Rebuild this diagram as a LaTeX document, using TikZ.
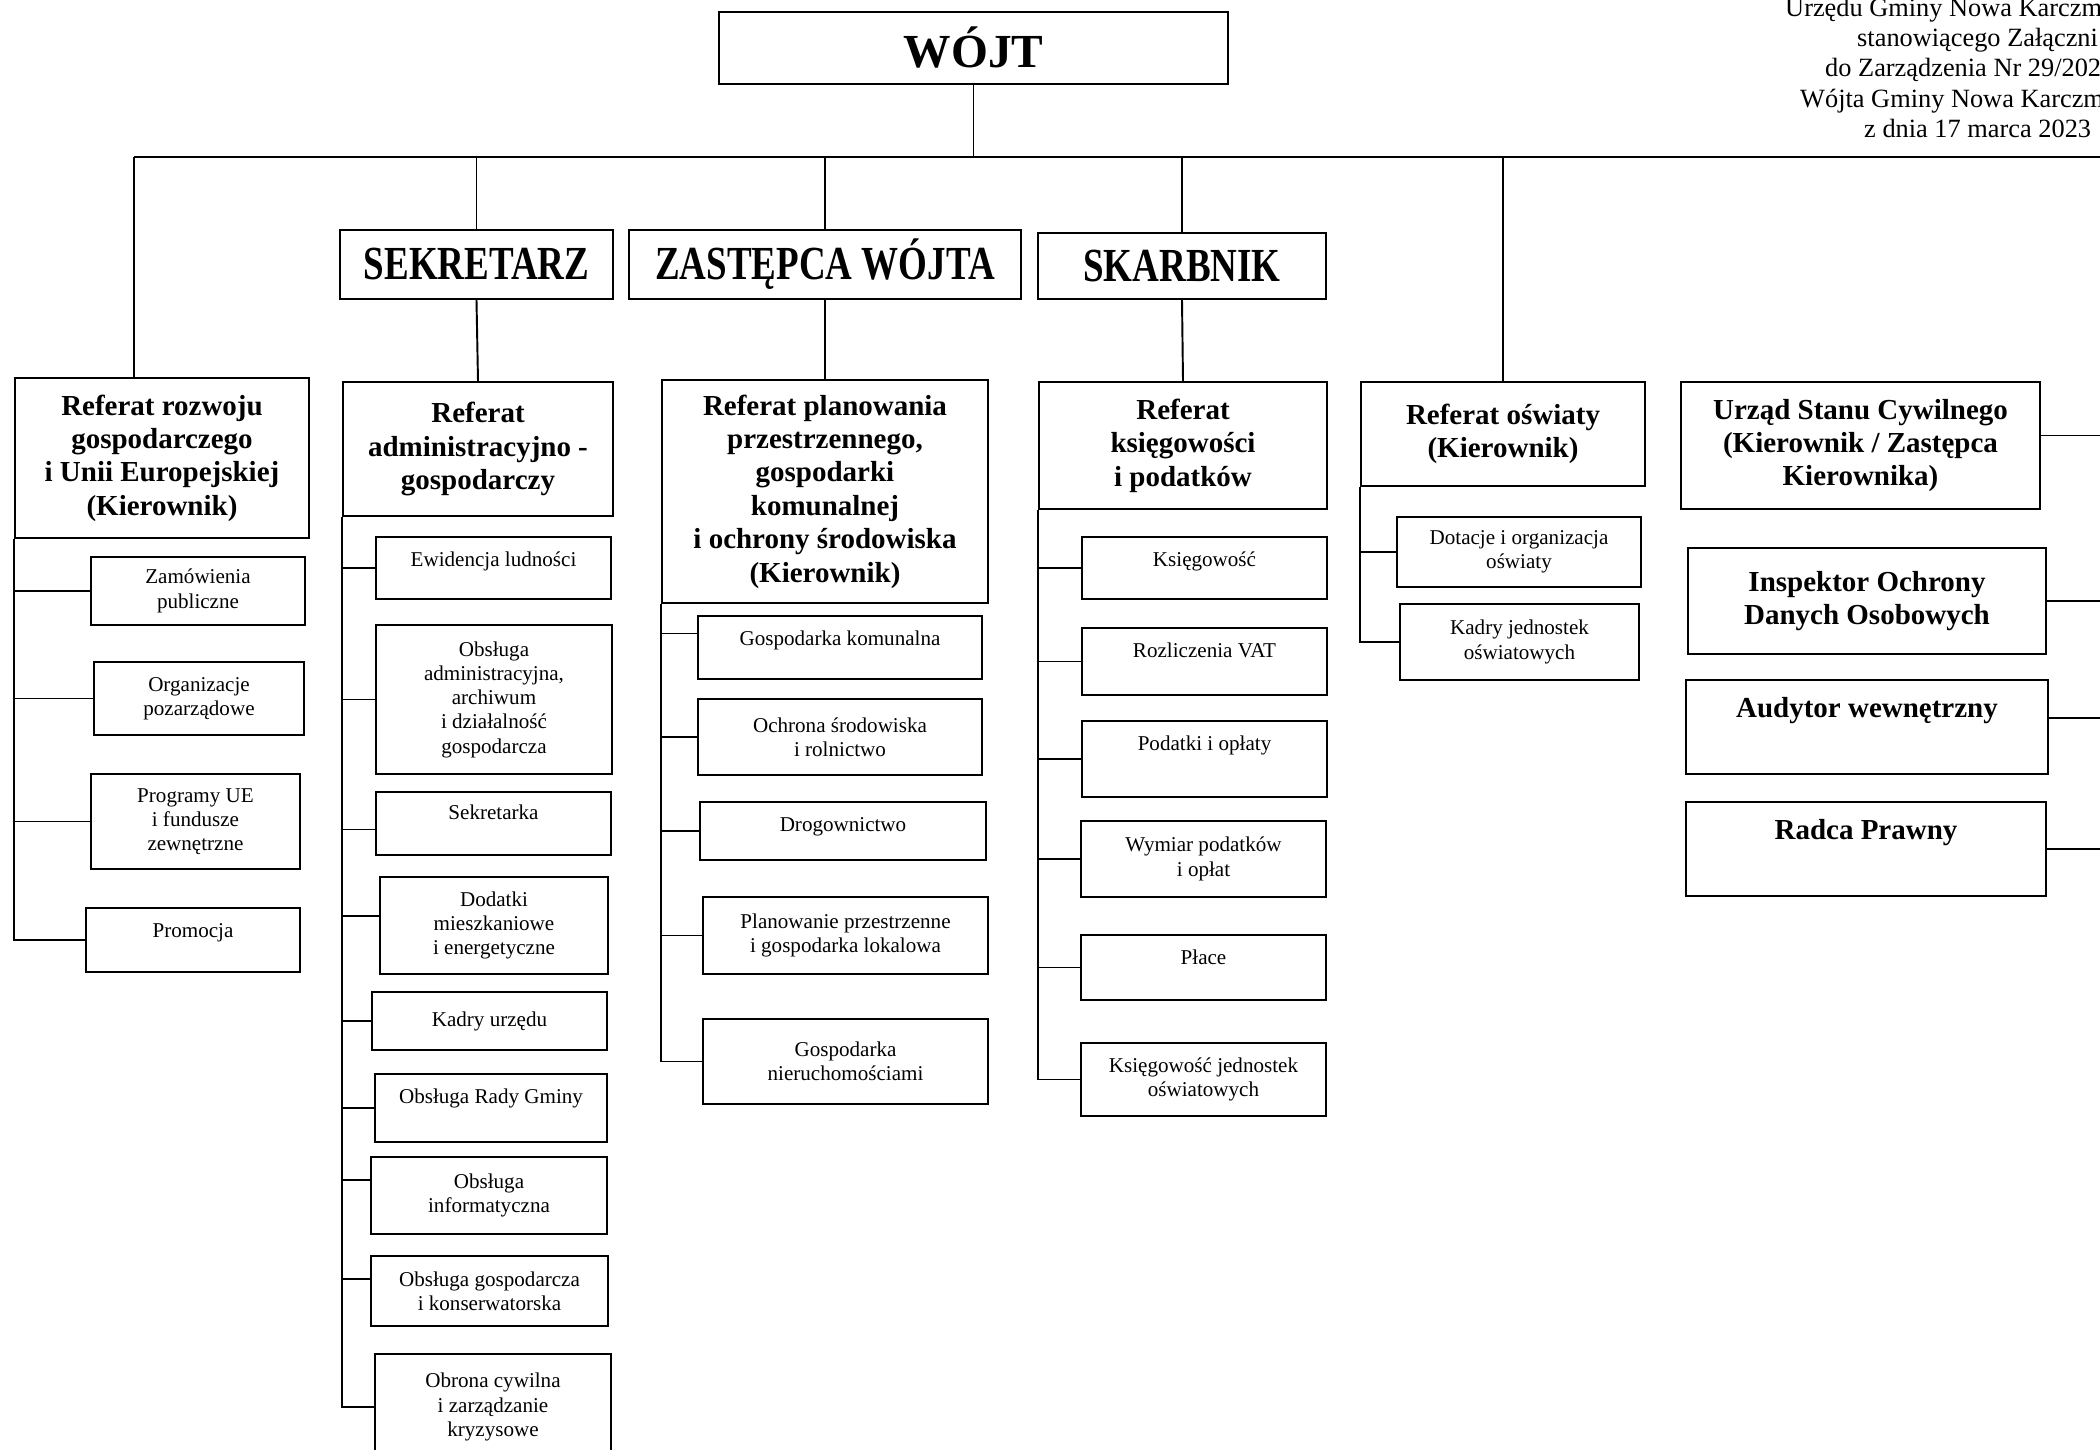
\documentclass[tikz,border=0pt]{standalone}
\usepackage{fontspec}
\setmainfont{Liberation Serif}
\newfontfamily\narrowbf[FakeStretch=0.78]{Liberation Serif}
\tikzset{
box/.style = {draw, line width=1.3pt, inner sep=0pt, align=center, font=\fontsize{12}{13.8}\selectfont},
headbox/.style = {box, font=\fontsize{16.5}{19}\selectfont\bfseries},
chiefbox/.style = {box, font=\narrowbf\bfseries\fontsize{27}{30}\selectfont},
topbox/.style = {box, font=\bfseries\fontsize{27}{30}\selectfont},
wh/.style 2 args = {minimum width=#1*0.02cm, minimum height=#2*0.02cm},
lift/.style = {text height=8.5pt, text depth=#1},
hlift/.style = {text height=11.5pt, text depth=#1},
link/.style = {line width=1.1pt},
note/.style = {anchor=base west, font=\fontsize{15}{17}\selectfont}
}

\begin{document}
\begin{tikzpicture}[x=0.02cm, y=-0.02cm]
\useasboundingbox (0,0) rectangle (2100,1450);
\clip (0,0) rectangle (2100,1450);

% note in the upper right corner
\node[note] (n1) at (1779,16) {Urzędu Gminy Nowa Karczm};
\node[note] (n2) at (1851,46) {stanowiącego Załączni};
\node[note] (n3) at (1819,76) {do Zarządzenia Nr 29/202};
\node[note] (n4) at (1794,107) {Wójta Gminy Nowa Karczm};
\node[note] (n5) at (1858,137) {z dnia 17 marca 2023};

% top
\node[topbox, wh={509}{72}] (wojt) at (973.5,48) {WÓJT};
\coordinate (barL) at (134,157);
\coordinate (barR) at (2120,157);
\draw[line width=1.6pt] (barL) -- (barR);
\draw[link] (wojt.south) -- (wojt.south |- barL);

\node[chiefbox, wh={273}{69}] (sek) at (476.5,264.5) {SEKRETARZ};
\node[chiefbox, wh={392}{69}] (zas) at (825,264.5) {ZASTĘPCA WÓJTA};
\node[chiefbox, wh={288}{66}] (ska) at (1182,266) {SKARBNIK};

% referaty
\node[headbox, wh={294}{160}] (rz) at (162,458) {Referat rozwoju\\ gospodarczego\\ i Unii Europejskiej\\ (Kierownik)};
\node[headbox, wh={270}{134}] (adm) at (478,449) {Referat\\ administracyjno -\\ gospodarczy};
\node[headbox, wh={326}{223}] (pla) at (825,491.5) {Referat planowania\\ przestrzennego,\\ gospodarki\\ komunalnej\\ i ochrony środowiska\\ (Kierownik)};
\node[headbox, wh={288}{127}] (ksi) at (1183,445.5) {Referat\\ księgowości\\ i podatków};
\node[headbox, wh={284}{104}] (osw) at (1503,434) {Referat oświaty\\ (Kierownik)};
\node[headbox, wh={359}{127}] (usc) at (1860.5,445.5) {Urząd Stanu Cywilnego\\ (Kierownik / Zastępca\\ Kierownika)};
\node[headbox, wh={358}{106}] (iod) at (1867,601) {Inspektor Ochrony\\ Danych Osobowych};
\node[headbox, hlift=22.8pt, wh={362}{94}] (aud) at (1867,727) {Audytor wewnętrzny};
\node[headbox, hlift=22.8pt, wh={360}{94}] (rad) at (1866,849) {Radca Prawny};

% rozwoj
\node[box, wh={214}{68}] (zam) at (198,591) {Zamówienia\\ publiczne};
\node[box, wh={210}{73}] (org) at (199,698.5) {Organizacje\\ pozarządowe};
\node[box, wh={209}{95}] (prg) at (195.5,821.5) {Programy UE\\ i fundusze\\ zewnętrzne};
\node[box, lift=11.6pt, wh={214}{64}] (pro) at (193,940) {Promocja};

% administracja
\node[box, lift=10.4pt, wh={235}{62}] (ewi) at (493.5,568) {Ewidencja ludności};
\node[box, wh={236}{149}] (obs) at (494,699.5) {Obsługa\\ administracyjna,\\ archiwum\\ i działalność\\ gospodarcza};
\node[box, lift=12.7pt, wh={235}{63}] (skr) at (493.5,823.5) {Sekretarka};
\node[box, wh={228}{97}] (dod) at (494,925.5) {Dodatki\\ mieszkaniowe\\ i energetyczne};
\node[box, wh={235}{58}] (kad) at (489.5,1021) {Kadry urzędu};
\node[box, lift=13.8pt, wh={232}{68}] (rgm) at (491,1108) {Obsługa Rady Gminy};
\node[box, wh={236}{77}] (inf) at (489,1195.5) {Obsługa\\ informatyczna};
\node[box, wh={237}{70}] (gos) at (489.5,1291) {Obsługa gospodarcza\\ i konserwatorska};
\node[box, wh={236}{106}] (obr) at (493,1407) {Obrona cywilna\\ i zarządzanie\\ kryzysowe};

% planowanie
\node[box, lift=10.4pt, wh={284}{63}] (gko) at (840,647.5) {Gospodarka komunalna};
\node[box, wh={284}{76}] (och) at (840,737) {Ochrona środowiska\\ i rolnictwo};
\node[box, lift=8.2pt, wh={286}{58}] (dro) at (843,831) {Drogownictwo};
\node[box, wh={285}{77}] (ppr) at (845.5,935.5) {Planowanie przestrzenne\\ i gospodarka lokalowa};
\node[box, wh={285}{85}] (nie) at (845.5,1061.5) {Gospodarka\\ nieruchomościami};

% ksiegowosc
\node[box, lift=10.4pt, wh={245}{62}] (kse) at (1204.5,568) {Księgowość};
\node[box, lift=13.3pt, wh={245}{67}] (vat) at (1204.5,661.5) {Rozliczenia VAT};
\node[box, lift=18.4pt, wh={245}{76}] (pod) at (1204.5,759) {Podatki i opłaty};
\node[box, wh={245}{76}] (wym) at (1203.5,859) {Wymiar podatków\\ i opłat};
\node[box, lift=12.1pt, wh={245}{65}] (plc) at (1203.5,967.5) {Płace};
\node[box, wh={245}{73}] (ksj) at (1203.5,1079.5) {Księgowość jednostek\\ oświatowych};

% oswiata
\node[box, wh={244}{70}] (dot) at (1519,552) {Dotacje i organizacja\\ oświaty};
\node[box, wh={239}{76}] (kjo) at (1519.5,642) {Kadry jednostek\\ oświatowych};

% connectors
\draw[link] (barL) -- (barL |- rz.north);
\foreach \n in {sek, zas, ska, osw}
  \draw[link] (\n.north) -- (\n.north |- barL);
\draw[link] (sek.south) -- (adm.north);
\draw[link] (zas.south) -- (pla.north);
\draw[link] (ska.south) -- (ksi.north);

\foreach \c in {zam, org, prg, pro}
  \draw[link] (\c.west) -| (rz.south west);
\foreach \c/\s in {ewi/0, obs/0, skr/-0.12, dod/0.19, kad/0, rgm/0, inf/0.31, gos/0.24, obr/0}
  \draw[link] ([yshift=\s cm]\c.west) -| (adm.south west);
\foreach \c/\s in {gko/0.28, och/0, dro/0, ppr/0, nie/0}
  \draw[link] ([yshift=\s cm]\c.west) -| (pla.south west);
\foreach \c in {kse, vat, pod, wym, plc, ksj}
  \draw[link] (\c.west) -| (ksi.south west);
\foreach \c in {dot, kjo}
  \draw[link] (\c.west) -| (osw.south west);
\foreach \c/\s in {usc/0.2, iod/0, aud/0.18, rad/0}
  \draw[link] ([yshift=\s cm]\c.east) -| (barR);
\end{tikzpicture}
\end{document}
